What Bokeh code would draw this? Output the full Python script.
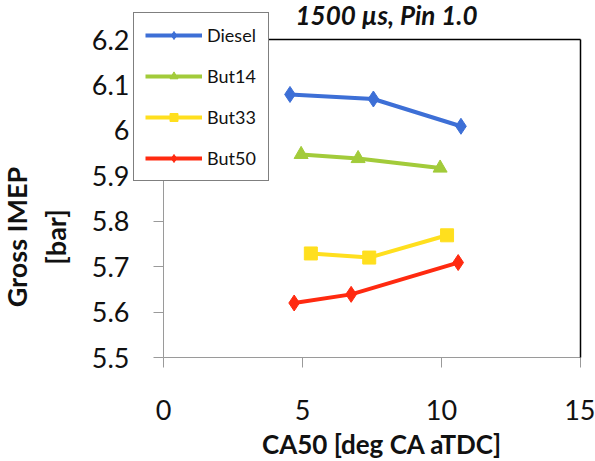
import math
from bokeh.plotting import figure
from bokeh.models import Range1d, LinearAxis, FixedTicker, Legend, LegendItem, Label
from bokeh.embed import file_html
from bokeh.resources import INLINE

# ---- data ----
ca50_diesel = [4.55, 7.55, 10.7]
imep_diesel = [6.079, 6.069, 6.009]
ca50_but14 = [4.95, 7.0, 9.95]
imep_but14 = [5.947, 5.938, 5.917]
ca50_but33 = [5.3, 7.4, 10.2]
imep_but33 = [5.729, 5.72, 5.769]
ca50_but50 = [4.7, 6.75, 10.6]
imep_but50 = [5.62, 5.639, 5.709]
series_names = ["Diesel", "But14", "But33", "But50"]
x_ticks = [0, 5, 10, 15]
x_tick_labels = ["0", "5", "10", "15"]
y_ticks = [5.5, 5.6, 5.7, 5.8, 5.9, 6.0, 6.1, 6.2]
y_tick_labels = ["5.5", "5.6", "5.7", "5.8", "5.9", "6", "6.1", "6.2"]
x_min, x_max = 0, 15
y_min, y_max = 5.5, 6.2
title_text = "1500 µs, Pin 1.0"
x_label = "CA50 [deg CA aTDC]"
y_label_lines = ["Gross IMEP", "[bar]"]

FONT = "Lato"
W, H = 595, 461
# pixel box of the plotting area inside the page
PL, PR, PT, PB = 163, 580, 39, 357
BASE_FIX = 11  # baseline correction of rendered text

# ranges chosen so that the data box lands on the pixel box above
sx = (PR - PL) / (x_max - x_min)
sy = (PB - PT) / (y_max - y_min)
xr = Range1d(x_min - PL / sx, x_min - PL / sx + W / sx)
yr = Range1d(y_max + PT / sy - H / sy, y_max + PT / sy)

p = figure(width=W, height=H, x_range=xr, y_range=yr,
           x_axis_location=None, y_axis_location=None,
           output_backend="svg", toolbar_location=None,
           min_border_left=0, min_border_right=0,
           min_border_top=0, min_border_bottom=0)
p.grid.visible = False
p.outline_line_color = None
p.background_fill_color = "white"
p.border_fill_color = "white"

AX_COLOR = "#9a9a9a"
TXT = "#111111"

xaxis = LinearAxis(fixed_location=y_min, bounds=(x_min, x_max),
                   ticker=FixedTicker(ticks=x_ticks),
                   major_label_overrides=dict(zip(x_ticks, x_tick_labels)))
yaxis = LinearAxis(fixed_location=x_min, bounds=(y_min, y_max),
                   ticker=FixedTicker(ticks=y_ticks),
                   major_label_overrides=dict(zip(y_ticks, y_tick_labels)))
for ax in (xaxis, yaxis):
    ax.axis_line_color = AX_COLOR
    ax.axis_line_width = 1
    ax.major_tick_line_color = AX_COLOR
    ax.major_tick_out = 10
    ax.major_tick_in = 0
    ax.minor_tick_line_color = None
    ax.major_label_text_font = FONT
    ax.major_label_text_font_size = "27px"
    ax.major_label_text_color = TXT
xaxis.major_label_standoff = 32
yaxis.major_label_standoff = 24
p.add_layout(xaxis, "below")
p.add_layout(yaxis, "left")

# black top and right borders of the plotting box
top_ax = LinearAxis(fixed_location=y_max, bounds=(x_min, x_max),
                    ticker=FixedTicker(ticks=[]), axis_line_color="black",
                    axis_line_width=1.5, major_tick_line_color=None,
                    minor_tick_line_color=None)
right_ax = LinearAxis(fixed_location=x_max, bounds=(y_min, y_max),
                      ticker=FixedTicker(ticks=[]), axis_line_color="black",
                      axis_line_width=1.5, major_tick_line_color=None,
                      minor_tick_line_color=None)
p.add_layout(top_ax, "above")
p.add_layout(right_ax, "right")

# texts (screen units from the page's bottom-left corner)
p.add_layout(Label(x=295, y=H - 25 + BASE_FIX, x_units="screen", y_units="screen",
                   text=title_text, text_align="left", text_baseline="alphabetic",
                   text_font=FONT, text_font_size="26px",
                   text_font_style="bold italic", text_color=TXT))
p.add_layout(Label(x=(PL + PR) / 2 + 10, y=H - 454 + BASE_FIX, x_units="screen",
                   y_units="screen", text=x_label, text_align="center",
                   text_baseline="alphabetic", text_font=FONT,
                   text_font_size="26px", text_font_style="bold", text_color=TXT))
for txt, bx in zip(y_label_lines, [27, 66]):
    p.add_layout(Label(x=bx - BASE_FIX, y=H - 236.5, x_units="screen", y_units="screen",
                       text=txt, angle=math.pi / 2, text_align="center",
                       text_baseline="alphabetic", text_font=FONT,
                       text_font_size="27px", text_font_style="bold",
                       text_color=TXT))

colors = ["#3d6fd6", "#a2cb3a", "#ffdf1e", "#ff2a10"]
markers = ["diamond", "triangle", "square", "diamond"]
sizes = [16, 14, 13, 16]
xs = [ca50_diesel, ca50_but14, ca50_but33, ca50_but50]
ys = [imep_diesel, imep_but14, imep_but33, imep_but50]

items = []
for name, c, m, s, x, y in zip(series_names, colors, markers, sizes, xs, ys):
    ln = p.line(x, y, line_color=c, line_width=4)
    sc = p.scatter(x, y, marker=m, size=s, fill_color=c, line_color=c)
    items.append(LegendItem(label=name, renderers=[ln, sc]))

legend = Legend(items=items, location=(133, H - 181),
                border_line_color="black", border_line_width=1.5,
                background_fill_color="white", background_fill_alpha=1.0,
                label_text_font=FONT, label_text_font_size="18px",
                label_text_color=TXT,
                glyph_width=57, glyph_height=20, label_height=20,
                label_width=50, label_standoff=5, spacing=19,
                padding=11, margin=0)
p.add_layout(legend, "center")

open("out.html", "w").write(file_html(p, INLINE))
